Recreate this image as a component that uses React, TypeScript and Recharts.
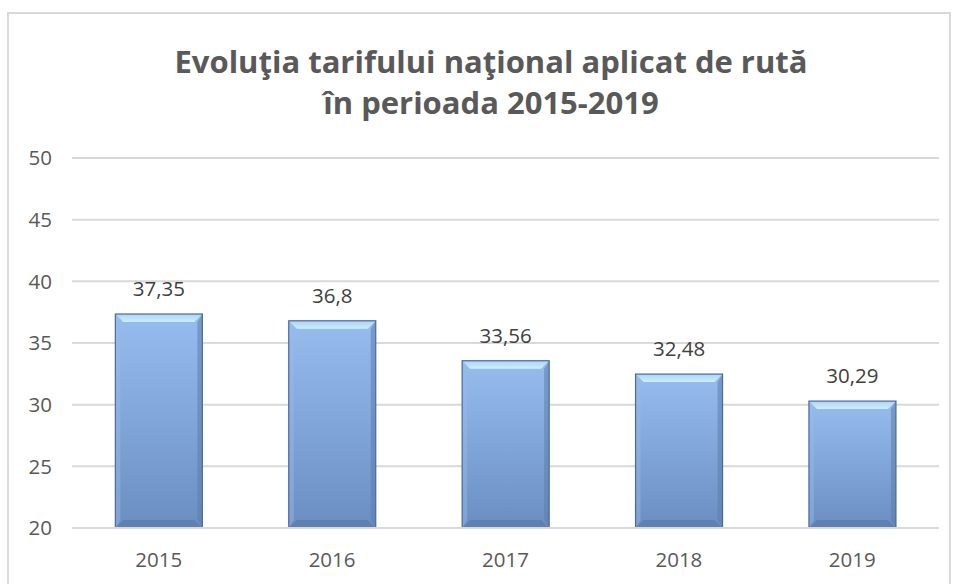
import { Bar, BarChart, CartesianGrid, LabelList, XAxis, YAxis } from "recharts";

const years = ["2015", "2016", "2017", "2018", "2019"];
const tariffs = [37.35, 36.8, 33.56, 32.48, 30.29];
const yTicks = [20, 25, 30, 35, 40, 45, 50];

const data = years.map((an, i) => ({ an, tarif: tariffs[i] }));

const fmt = (v: number) => String(v).replace(".", ",");

function BevelBar(props: any) {
  const { x, y, width: w, height: h } = props;
  if (!h || h <= 0) return null;
  const b = 8;
  return (
    <g>
      <rect x={x} y={y} width={w} height={h} fill="url(#barGrad)" />
      <polygon
        points={`${x},${y} ${x + w},${y} ${x + w - b},${y + b} ${x + b},${y + b}`}
        fill="url(#topGrad)"
      />
      <polygon
        points={`${x},${y + h} ${x + w},${y + h} ${x + w - b},${y + h - b} ${x + b},${y + h - b}`}
        fill="#5c7dab"
        opacity={0.8}
      />
      <polygon
        points={`${x + w},${y} ${x + w},${y + h} ${x + w - 5},${y + h - b} ${x + w - 5},${y + b}`}
        fill="#5d7eac"
        opacity={0.55}
      />
      <polygon
        points={`${x},${y} ${x},${y + h} ${x + 5},${y + h - b} ${x + 5},${y + b}`}
        fill="#9bbbe6"
        opacity={0.45}
      />
      <rect x={x} y={y} width={w} height={h} fill="none" stroke="#4b6a98" strokeWidth={1.2} />
    </g>
  );
}

const tickFont = { fill: "#595959", fontSize: 20.5, fontFamily: "'Open Sans', sans-serif" };

export default function App() {
  return (
    <div style={{ position: "absolute", left: 0, top: 0, width: 953, height: 584, overflow: "hidden", background: "#fff" }}>
      <div
        style={{
          position: "absolute",
          left: 7,
          top: 12,
          width: 940,
          height: 600,
          border: "2px solid #d9d9d9",
        }}
      />
      <div
        style={{
          position: "absolute",
          left: 0,
          top: 41,
          width: 982,
          textAlign: "center",
          fontFamily: "'Open Sans', sans-serif",
          fontWeight: 700,
          fontSize: 31,
          lineHeight: "41px",
          color: "#595959",
        }}
      >
        Evoluţia tarifului naţional aplicat de rută
        <br />
        în perioada 2015-2019
      </div>
      <div style={{ position: "absolute", left: 0, top: 0 }}>
        <BarChart
          width={953}
          height={584}
          data={data}
          margin={{ top: 158, right: 14, bottom: 26, left: 0 }}
          barCategoryGap="25%"
        >
          <defs>
            <linearGradient id="barGrad" x1="0" y1="0" x2="0" y2="1">
              <stop offset="0%" stopColor="#97bdef" />
              <stop offset="100%" stopColor="#6a8ec2" />
            </linearGradient>
            <linearGradient id="topGrad" x1="0" y1="0" x2="0" y2="1">
              <stop offset="0%" stopColor="#aed3f7" />
              <stop offset="100%" stopColor="#cdeefd" />
            </linearGradient>
          </defs>
          <CartesianGrid stroke="#d9d9d9" strokeWidth={2} vertical={false} />
          <XAxis
            dataKey="an"
            axisLine={{ stroke: "#d9d9d9", strokeWidth: 2 }}
            tickLine={false}
            tickSize={0}
            tickMargin={24}
            height={30}
            tick={tickFont}
          />
          <YAxis
            domain={[20, 50]}
            ticks={yTicks}
            allowDataOverflow
            axisLine={false}
            tickLine={false}
            tickSize={0}
            tickMargin={20}
            width={72}
            tick={tickFont}
          />
          <Bar dataKey="tarif" shape={<BevelBar />} isAnimationActive={false}>
            <LabelList
              dataKey="tarif"
              position="top"
              offset={18}
              formatter={(v: any) => fmt(Number(v))}
              style={{ fill: "#404040", fontSize: 20.5, fontFamily: "'Open Sans', sans-serif" }}
            />
          </Bar>
        </BarChart>
      </div>
    </div>
  );
}
